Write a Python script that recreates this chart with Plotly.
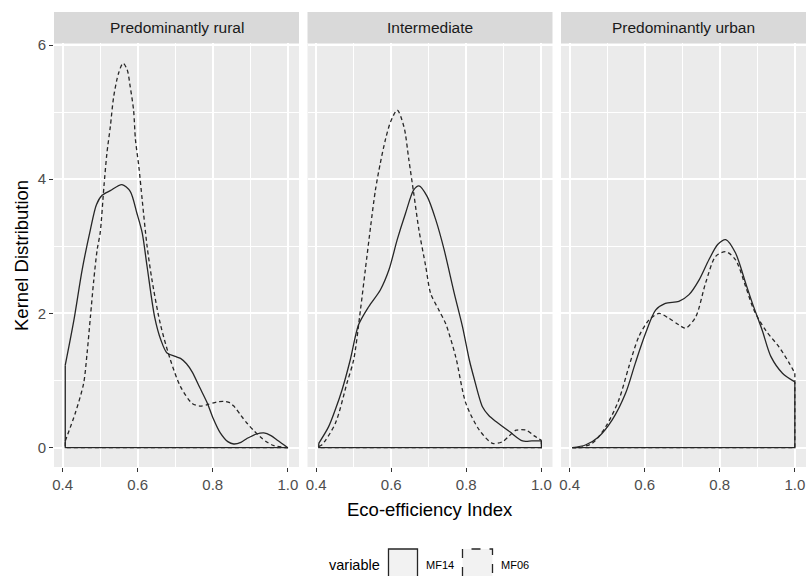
import plotly.graph_objects as go

# ---------------- data ----------------
panels = ["Predominantly rural", "Intermediate", "Predominantly urban"]
series_names = ["MF14", "MF06"]

rural_mf14_x = [0.407, 0.43, 0.452, 0.474, 0.49, 0.505, 0.527, 0.558, 0.58, 0.598, 0.612, 0.625, 0.645, 0.662,
                0.678, 0.70, 0.714, 0.73, 0.745, 0.765, 0.785, 0.80, 0.82, 0.84, 0.856, 0.875, 0.892, 0.915,
                0.936, 0.955, 0.972, 1.0]
rural_mf14_y = [1.23, 1.9, 2.65, 3.25, 3.62, 3.76, 3.83, 3.92, 3.82, 3.49, 3.2, 2.7, 1.95, 1.6,
                1.41, 1.36, 1.33, 1.25, 1.13, 0.9, 0.67, 0.45, 0.22, 0.09, 0.055, 0.08, 0.14, 0.2,
                0.22, 0.18, 0.11, 0.0]

rural_mf06_x = [0.407, 0.434, 0.456, 0.465, 0.474, 0.483, 0.492, 0.50, 0.51, 0.518, 0.527, 0.536, 0.549, 0.561,
                0.572, 0.58, 0.589, 0.594, 0.603, 0.612, 0.625, 0.638, 0.66, 0.687, 0.714, 0.745, 0.765,
                0.785, 0.81, 0.829, 0.845, 0.856, 0.875, 0.892, 0.91, 0.927, 0.945, 0.963, 1.0]
rural_mf06_y = [0.1, 0.52, 0.96, 1.4, 1.95, 2.5, 2.95, 3.2, 3.89, 4.39, 4.78, 5.23, 5.58, 5.73,
                5.63, 5.38, 5.03, 4.59, 4.19, 3.69, 3.0, 2.5, 1.85, 1.31, 0.91, 0.66, 0.62,
                0.64, 0.68, 0.69, 0.67, 0.62, 0.48, 0.36, 0.25, 0.16, 0.08, 0.03, 0.0]

inter_mf14_x = [0.407, 0.433, 0.45, 0.469, 0.491, 0.513, 0.54, 0.571, 0.594, 0.616, 0.638, 0.66, 0.674, 0.696,
                0.719, 0.741, 0.768, 0.79, 0.808, 0.82, 0.843, 0.86, 0.879, 0.915, 0.95, 0.975, 1.0]
inter_mf14_y = [0.065, 0.31, 0.55, 0.86, 1.31, 1.83, 2.1, 2.35, 2.65, 3.1, 3.49, 3.84, 3.9, 3.74,
                3.39, 2.95, 2.3, 1.8, 1.31, 1.05, 0.61, 0.48, 0.39, 0.24, 0.1, 0.1, 0.1]

inter_mf06_x = [0.407, 0.415, 0.451, 0.482, 0.50, 0.518, 0.531, 0.545, 0.558, 0.571, 0.585, 0.598, 0.616, 0.634,
                0.647, 0.66, 0.674, 0.692, 0.705, 0.727, 0.745, 0.772, 0.799, 0.835, 0.87, 0.897, 0.915,
                0.933, 0.96, 0.98, 1.0]
inter_mf06_y = [0.02, 0.04, 0.36, 0.96, 1.31, 2.05, 2.65, 3.29, 3.84, 4.24, 4.6, 4.85, 5.03, 4.78,
                4.29, 3.79, 3.24, 2.7, 2.3, 2.05, 1.85, 1.35, 0.66, 0.26, 0.065, 0.09, 0.18,
                0.26, 0.26, 0.18, 0.11]

urban_mf14_x = [0.407, 0.442, 0.477, 0.513, 0.549, 0.575, 0.602, 0.629, 0.655, 0.691, 0.718, 0.745, 0.771,
                0.795, 0.816, 0.842, 0.869, 0.887, 0.913, 0.936, 0.967, 1.0]
urban_mf14_y = [0.0, 0.04, 0.16, 0.41, 0.81, 1.26, 1.7, 2.05, 2.15, 2.18, 2.28, 2.5, 2.8,
                3.03, 3.1, 2.9, 2.45, 2.15, 1.75, 1.36, 1.11, 0.98]

urban_mf06_x = [0.407, 0.425, 0.46, 0.496, 0.531, 0.558, 0.584, 0.611, 0.638, 0.664, 0.691, 0.709, 0.736,
                0.762, 0.789, 0.816, 0.842, 0.869, 0.891, 0.922, 0.958, 0.985, 1.0]
urban_mf06_y = [0.0, 0.0, 0.065, 0.31, 0.71, 1.21, 1.65, 1.9, 2.0, 1.93, 1.83, 1.78, 1.95,
                2.45, 2.85, 2.92, 2.8, 2.4, 2.05, 1.75, 1.5, 1.26, 1.11]

x_ticks = [0.4, 0.6, 0.8, 1.0]
x_tick_labels = ["0.4", "0.6", "0.8", "1.0"]
x_minor = [0.5, 0.7, 0.9]
y_ticks = [0, 2, 4, 6]
y_tick_labels = ["0", "2", "4", "6"]
y_minor = [1, 3, 5]

data = [
    [(rural_mf14_x, rural_mf14_y), (rural_mf06_x, rural_mf06_y)],
    [(inter_mf14_x, inter_mf14_y), (inter_mf06_x, inter_mf06_y)],
    [(urban_mf14_x, urban_mf14_y), (urban_mf06_x, urban_mf06_y)],
]

# ---------------- layout geometry ----------------
W, H = 806, 576
ML, MR, MT, MB = 54, 0, 43, 109
PW = W - ML - MR
PH = H - MT - MB
FONT = "Liberation Sans, Arial, sans-serif"

def px_x(px):
    return (px - ML) / PW

def px_y(py):
    return (H - MB - py) / PH

panel_px = [(54, 299), (307.5, 552.5), (561, 806)]
x_range = [0.377, 1.0297]
y_range = [-0.288, 6.03]

fig = go.Figure()
dashes = ["solid", "4px,3px"]
line_col = "#262626"

for i, pdata in enumerate(data):
    xa = "x" if i == 0 else f"x{i+1}"
    ya = "y" if i == 0 else f"y{i+1}"
    for j, (xs, ys) in enumerate(pdata):
        fig.add_trace(go.Scatter(x=xs, y=ys, mode="lines", xaxis=xa, yaxis=ya,
                                 line=dict(color=line_col, width=1.3, dash=dashes[j], shape="spline", smoothing=0.8),
                                 showlegend=False, hoverinfo="skip"))
        # closing edges of density polygon (vertical edges + baseline)
        fig.add_trace(go.Scatter(x=[xs[-1], xs[-1], xs[0], xs[0]], y=[ys[-1], 0, 0, ys[0]],
                                 mode="lines", xaxis=xa, yaxis=ya,
                                 line=dict(color=line_col, width=1.3, dash=dashes[j]),
                                 showlegend=False, hoverinfo="skip"))

axis_common = dict(showline=False, zeroline=False, gridcolor="white", gridwidth=1.6,
                   ticks="outside", ticklen=4, tickwidth=1, tickcolor="#333333",
                   tickfont=dict(family=FONT, size=15, color="#4D4D4D"))

layout = dict(width=W, height=H, margin=dict(l=ML, r=MR, t=MT, b=MB),
              paper_bgcolor="white", plot_bgcolor="#EBEBEB", showlegend=False,
              font=dict(family=FONT))

for i, (p0, p1) in enumerate(panel_px):
    xk = "xaxis" if i == 0 else f"xaxis{i+1}"
    yk = "yaxis" if i == 0 else f"yaxis{i+1}"
    ya = "y" if i == 0 else f"y{i+1}"
    xa = "x" if i == 0 else f"x{i+1}"
    layout[xk] = dict(axis_common, domain=[px_x(p0), px_x(p1)], range=x_range, anchor=ya,
                      tickmode="array", tickvals=x_ticks, ticktext=x_tick_labels,
                      minor=dict(tickvals=x_minor, showgrid=True, gridcolor="white", gridwidth=0.7, ticks=""))
    layout[yk] = dict(axis_common, domain=[0, 1], range=y_range, anchor=xa,
                      tickmode="array", tickvals=y_ticks, ticktext=y_tick_labels,
                      showticklabels=(i == 0), ticks="outside" if i == 0 else "",
                      minor=dict(tickvals=y_minor, showgrid=True, gridcolor="white", gridwidth=0.7, ticks=""))

fig.update_layout(**layout)

shapes = []
annotations = []
# strips
for i, (p0, p1) in enumerate(panel_px):
    shapes.append(dict(type="rect", xref="paper", yref="paper", x0=px_x(p0), x1=px_x(p1),
                       y0=px_y(43), y1=px_y(12), fillcolor="#D9D9D9", line=dict(width=0), layer="below"))
    annotations.append(dict(text=panels[i], xref="paper", yref="paper", x=(px_x(p0) + px_x(p1)) / 2,
                            y=px_y(28), xanchor="center", yanchor="middle", showarrow=False,
                            font=dict(family=FONT, size=15.5, color="#1A1A1A")))

# axis titles
annotations.append(dict(text="Kernel Distribution", xref="paper", yref="paper", x=px_x(21), y=px_y(256),
                        xanchor="center", yanchor="middle", textangle=-90, showarrow=False,
                        font=dict(family=FONT, size=18.5, color="black")))
annotations.append(dict(text="Eco-efficiency Index", xref="paper", yref="paper", x=px_x(430), y=px_y(509),
                        xanchor="center", yanchor="middle", showarrow=False,
                        font=dict(family=FONT, size=18.5, color="black")))

# legend (drawn manually)
annotations.append(dict(text="variable", xref="paper", yref="paper", x=px_x(354), y=px_y(565),
                        xanchor="center", yanchor="middle", showarrow=False,
                        font=dict(family=FONT, size=14.5, color="black")))
legend_boxes = [(388.5, 417.5, 424, "solid"), (462.5, 492.5, 499, "dash")]
for (b0, b1, tx, dsh), name in zip(legend_boxes, series_names):
    shapes.append(dict(type="rect", xref="paper", yref="paper", x0=px_x(b0), x1=px_x(b1),
                       y0=px_y(579), y1=px_y(549), fillcolor="#F2F2F2",
                       line=dict(color=line_col, width=1.3, dash=dsh)))
    annotations.append(dict(text=name, xref="paper", yref="paper", x=px_x(tx), y=px_y(565),
                            xanchor="left", yanchor="middle", showarrow=False,
                            font=dict(family=FONT, size=11, color="black")))

fig.update_layout(shapes=shapes, annotations=annotations)
fig.write_html("out.html")
